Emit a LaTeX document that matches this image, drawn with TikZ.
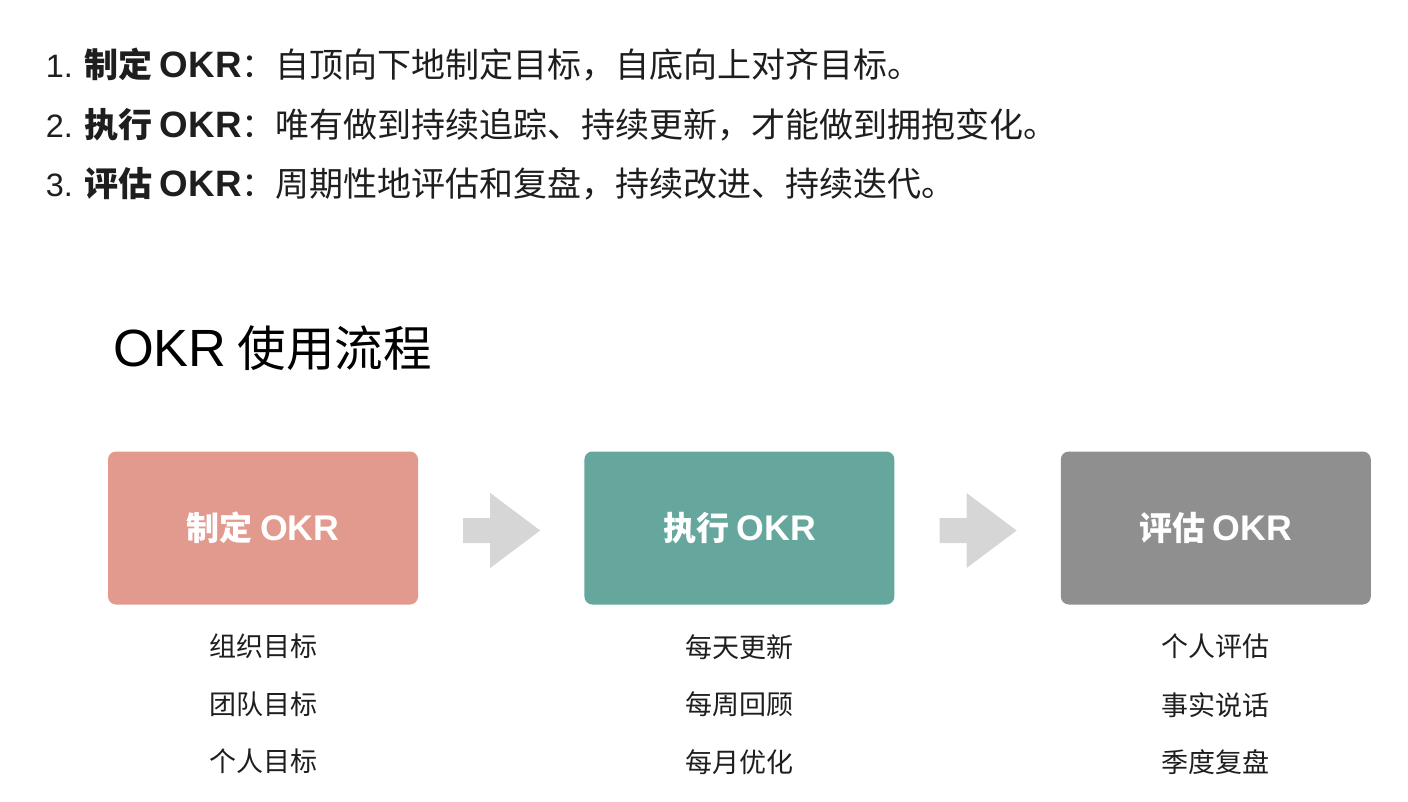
\documentclass[tikz,border=0pt]{standalone}
\usepackage{fontspec}
\setmainfont{Noto Sans CJK SC}
\newfontfamily\lat{Liberation Sans}[Scale=1.08]
\usepackage{xcolor}
\usetikzlibrary{calc,positioning}
\definecolor{planred}{HTML}{E29A8F}
\definecolor{doteal}{HTML}{66A79D}
\definecolor{checkgray}{HTML}{8F8F8F}
\definecolor{gapgray}{HTML}{D6D6D6}
\definecolor{ink}{HTML}{1E1E1E}
\newcommand\okrword{{\lat OKR}}

\tikzset{
  listnum/.style={anchor=base east,inner sep=0,text=ink,font=\fontsize{30}{40}\selectfont\lat},
  listitem/.style={anchor=base west,inner sep=0,text=ink,font=\fontsize{34}{40}\selectfont},
  stagebox/.style={minimum width=310,minimum height=153,rounded corners=8,inner sep=0,
    text=white,font=\fontsize{33}{38}\selectfont\bfseries},
  notetext/.style={inner sep=0,text=ink,font=\fontsize{27}{32}\selectfont},
  gaparrow/.style={fill=gapgray}
}

\begin{document}
\begin{tikzpicture}[x=1pt,y=-1pt]
  \useasboundingbox (0,0) rectangle (1408,802);
  % numbered list
  \foreach \k/\t [count=\i] in {制定/自顶向下地制定目标，自底向上对齐目标。,
      执行/唯有做到持续追踪、持续更新，才能做到拥抱变化。,
      评估/周期性地评估和复盘，持续改进、持续迭代。} {
    \node[listnum] (n\i) at (73,{78+59.5*(\i-1)}) {\i.};
    \node[listitem] (l\i) at ($(n\i.base east)+(11,0)$) {\textbf{\k{} \okrword}：\t};
  }
  % title
  \node[anchor=base west,inner sep=0,text=black,font=\fontsize{48.5}{54}\selectfont] (title) at (113,366) {\okrword{} 使用流程};
  % stages
  \node[stagebox,fill=planred] (plan) at (263,528) {制定 \okrword};
  \node[stagebox,fill=doteal,right=166 of plan] (exec) {执行 \okrword};
  \node[stagebox,fill=checkgray,right=166 of exec] (eval) {评估 \okrword};
  \foreach \a/\b in {plan/exec,exec/eval} {
    \coordinate (tip\a) at ($(\b.west)+(-44,2.5)$);
    \fill[gaparrow] ($(\a.east)+(45,-10)$) -- ++(27,0) -- ++(0,-25) -- (tip\a)
      -- ($(tip\a)+(-50,37.5)$) -- ++(0,-25) -- ($(\a.east)+(45,15)$) -- cycle;
  }
  % notes under each stage
  \foreach \s/\x/\y/\z in {plan/组织目标/团队目标/个人目标,
      exec/每天更新/每周回顾/每月优化,
      eval/个人评估/事实说话/季度复盘} {
    \node[notetext] (\s-1) at ($(\s.south)+(0,42)$) {\x};
    \node[notetext] (\s-2) at ($(\s.south)+(0,100)$) {\y};
    \node[notetext] (\s-3) at ($(\s.south)+(0,157)$) {\z};
  }
\end{tikzpicture}
\end{document}
